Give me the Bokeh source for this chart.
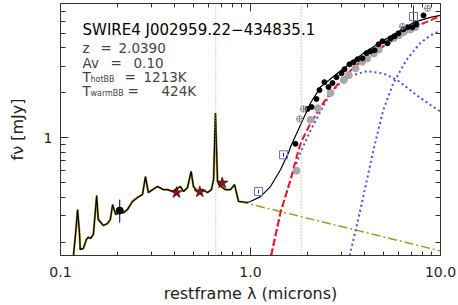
from bokeh.plotting import figure
from bokeh.models import LogAxis, FixedTicker, PrintfTickFormatter, Label, Span
from bokeh.embed import file_html
from bokeh.resources import INLINE

# ---------------- data ----------------
# total model (black solid), restframe wavelength [micron] and flux [mJy]
total_lam = [0.117, 0.120, 0.123, 0.126, 0.127, 0.132, 0.137, 0.140, 0.144, 0.149,
             0.155, 0.158, 0.168, 0.177, 0.183, 0.188, 0.195, 0.205, 0.215, 0.225,
             0.239, 0.254, 0.270, 0.280, 0.290, 0.305, 0.324, 0.348, 0.366, 0.389,
             0.428, 0.444, 0.466, 0.487, 0.501, 0.526, 0.559, 0.594, 0.623, 0.639,
             0.654, 0.670, 0.681, 0.739, 0.785, 0.824, 0.865, 0.964, 1.0,
             1.129, 1.274, 1.438, 1.585, 1.625, 1.833, 2.07, 2.335, 2.87, 3.36,
             3.93, 4.83, 5.94, 7.21, 8.85, 10.0]
total_f = [0.163, 0.226, 0.331, 0.226, 0.179, 0.182, 0.209, 0.216, 0.212, 0.226,
           0.411, 0.284, 0.259, 0.267, 0.284, 0.357, 0.307, 0.316, 0.316, 0.331,
           0.375, 0.398, 0.417, 0.550, 0.430, 0.450, 0.472, 0.450, 0.450, 0.437,
           0.472, 0.437, 0.464, 0.596, 0.472, 0.437, 0.450, 0.430, 0.450, 0.525,
           1.468, 0.525, 0.486, 0.450, 0.450, 0.486, 0.375, 0.369, 0.375,
           0.404, 0.472, 0.612, 0.794, 0.871, 1.221, 1.711, 2.188, 2.712, 3.162,
           3.687, 4.365, 5.09, 5.93, 6.41, 6.61]
n_spec = 48  # number of points belonging to the stellar template (olive underlay)

# power-law / stellar extension (olive dash-dot)
pl_lam = [0.875, 10.0]
pl_f = [0.375, 0.175]

# sum of black bodies (red dashed)
bbsum_lam = [1.285, 1.438, 1.625, 1.79, 1.87, 2.07, 2.335, 2.63, 3.07, 3.6, 4.4, 5.4, 6.6, 8.1, 10.0]
bbsum_f = [0.163, 0.316, 0.525, 0.832, 0.97, 1.25, 1.61, 1.995, 2.51, 3.07, 3.69, 4.37, 5.09, 5.84, 6.55]

# hot black body (blue dotted)
hot_lam = [1.285, 1.438, 1.625, 1.833, 2.07, 2.3, 2.49, 2.87, 3.36, 4.1, 5.0, 5.94, 7.5, 8.85, 10.0]
hot_f = [0.163, 0.316, 0.525, 0.80, 1.12, 1.45, 1.75, 2.25, 2.6, 2.8, 2.7, 2.43, 1.93, 1.66, 1.5]

# warm black body (blue dotted)
warm_lam = [3.33, 3.79, 4.44, 5.0, 5.65, 6.6, 7.8, 8.85, 10.0]
warm_f = [0.163, 0.331, 0.832, 1.54, 2.33, 3.31, 4.30, 4.86, 5.2]

# IRS spectrum points (black dots)
irs_lam = [1.725, 1.995, 2.094, 2.225, 2.307, 2.449, 2.574, 2.70, 2.836, 3.013,
           3.126, 3.319, 3.485, 3.656, 3.883, 4.08, 4.28, 4.50, 4.72, 4.95,
           5.26, 5.46, 5.73, 6.01, 6.38, 6.70, 7.12, 7.48, 8.14]
irs_f = [0.912, 1.56, 1.61, 1.82, 2.09, 2.36, 2.19, 2.33, 2.55, 2.71,
         2.88, 3.11, 3.21, 3.36, 3.41, 3.69, 3.80, 3.86, 4.23, 4.43,
         4.30, 4.64, 4.79, 5.01, 5.33, 5.50, 5.50, 5.75, 6.61]

# model photometry (grey dots)
mod_lam = [1.746, 2.07, 2.26, 2.64, 3.10, 3.29, 3.57, 3.87, 4.11, 4.46, 4.73, 5.24, 5.68, 6.04, 6.41, 6.95, 7.38]
mod_f = [0.603, 1.32, 1.58, 2.0, 2.44, 2.63, 2.92, 3.23, 3.40, 3.67, 3.90, 4.39, 4.66, 4.86, 5.11, 5.31, 5.52]

# grey open circles with cross
oc_lam = [1.811, 1.901, 6.31, 8.55]
oc_f = [1.34, 1.56, 5.58, 7.36]

# optical photometry (red stars)
star_lam = [0.408, 0.541, 0.710]
star_f = [0.430, 0.435, 0.499]

# UV point with error bar (black filled circle)
uv_lam = [0.205]
uv_f = [0.326]
uv_lo = [0.271]
uv_hi = [0.386]

# IRAC / MIPS photometry (blue open squares) with error bars
sq_lam = [1.102, 1.492, 7.21]
sq_f = [0.437, 0.770, 6.50]
sq_lo = [0.424, 0.748, 5.67]
sq_hi = [0.450, 0.792, 7.70]

# dotted vertical markers
cut_lam = [0.656, 1.85]

x_major = [0.1, 1.0, 10.0]
x_minor = [0.2, 0.3, 0.4, 0.5, 0.6, 0.7, 0.8, 0.9, 2, 3, 4, 5, 6, 7, 8, 9]
y_major = [1.0]
y_minor = [0.2, 0.3, 0.4, 0.5, 0.6, 0.7, 0.8, 0.9, 2, 3, 4, 5, 6, 7]

FONT = "DejaVu Sans"
AX = "#333333"

p = figure(width=458, height=305, x_axis_type="log", y_axis_type="log",
           x_range=(0.1, 10.0), y_range=(0.163, 7.94),
           output_backend="svg", toolbar_location=None,
           min_border_left=60, min_border_right=18, min_border_top=3, min_border_bottom=49)
p.grid.visible = False
p.outline_line_color = None
p.background_fill_color = "white"
p.border_fill_color = "white"


def style_axis(ax, major_len, minor_len):
    ax.axis_line_color = AX
    ax.axis_line_width = 1
    ax.major_tick_line_color = AX
    ax.minor_tick_line_color = AX
    ax.major_tick_in = major_len
    ax.major_tick_out = 0
    ax.minor_tick_in = minor_len
    ax.minor_tick_out = 0
    ax.major_label_text_font = FONT
    ax.major_label_text_color = "#222222"
    ax.axis_label_text_font = FONT
    ax.axis_label_text_font_style = "normal"
    ax.axis_label_text_color = "#222222"


xb = p.xaxis[0]
xb.ticker = FixedTicker(ticks=x_major, minor_ticks=x_minor)
xb.formatter = PrintfTickFormatter(format="%.1f")
style_axis(xb, 8, 4)
xb.major_label_text_font_size = "14px"
xb.major_label_standoff = 11
xb.axis_label = "restframe λ (microns)"
xb.axis_label_text_font_size = "16px"
xb.axis_label_standoff = 4

yl = p.yaxis[0]
yl.ticker = FixedTicker(ticks=y_major, minor_ticks=y_minor)
yl.formatter = PrintfTickFormatter(format="%d")
style_axis(yl, 8, 5)
yl.major_label_text_font_size = "14px"
yl.major_label_standoff = 8
yl.axis_label = "fν [mJy]"
yl.axis_label_text_font_size = "16px"
yl.axis_label_standoff = 14

top = LogAxis(ticker=FixedTicker(ticks=x_major, minor_ticks=x_minor))
style_axis(top, 8, 4)
top.major_label_text_font_size = "1px"
top.major_label_text_alpha = 0
top.major_label_standoff = 0
p.add_layout(top, "above")

right = LogAxis(ticker=FixedTicker(ticks=y_major, minor_ticks=y_minor))
style_axis(right, 8, 5)
right.major_label_text_font_size = "1px"
right.major_label_text_alpha = 0
right.major_label_standoff = 0
p.add_layout(right, "right")

# vertical dotted markers
for lam in cut_lam:
    p.add_layout(Span(location=lam, dimension="height", line_color="#AAAAAA",
                      line_dash="1 2", line_width=1))

# stellar template underlay and power-law extension
p.line(total_lam[:n_spec], total_f[:n_spec], line_color="#A8962A", line_width=2.2)
p.line(pl_lam, pl_f, line_color="#A8961E", line_width=1.5, line_dash="9 3 2 3")

# black bodies
p.line(hot_lam, hot_f, line_color="#4A4AF0", line_width=2, line_dash="2 3")
p.line(warm_lam, warm_f, line_color="#4A4AF0", line_width=2, line_dash="2 3")
p.line(bbsum_lam, bbsum_f, line_color="#FF1010", line_width=2, line_dash="7 3")

# model photometry
p.scatter(mod_lam, mod_f, marker="circle", size=7, fill_color="#A8A8A8", line_color="#A8A8A8")

# total model
p.line(total_lam, total_f, line_color="black", line_width=1.2)

# data
p.scatter(irs_lam, irs_f, marker="circle", size=5, fill_color="black", line_color="black")
p.scatter(oc_lam, oc_f, marker="circle_cross", size=6, fill_color=None, line_color="#888888", line_width=1)
p.segment(uv_lam, uv_lo, uv_lam, uv_hi, line_color="black", line_width=1)
p.scatter(uv_lam, uv_f, marker="circle", size=7, fill_color="black", line_color="black")
p.segment(sq_lam, sq_lo, sq_lam, sq_hi, line_color="#333333", line_width=1)
p.scatter(sq_lam, sq_f, marker="square", size=8, fill_color=None, line_color="#6E6ED0", line_width=1)
p.scatter(star_lam, star_f, marker="star", size=12, fill_color="#8B1414", line_color="#2A0000", line_width=0.6)

# annotation text
GRAY = "#444444"


def lab(x, y, t, size="13.5px", color=GRAY):
    p.add_layout(Label(x=x, y=y, text=t, text_font=FONT, text_font_size=size,
                       text_color=color, text_baseline="alphabetic", text_align="left"))


lab(0.1306, 5.25, "SWIRE4 J002959.22−434835.1", size="15px", color="black")
lab(0.1306, 4.01, "z")
lab(0.1624, 4.01, "=")
lab(0.2021, 4.01, "2.0390")
lab(0.1306, 3.16, "Av")
lab(0.1833, 3.16, "=")
lab(0.2423, 3.16, "0.10")
lab(0.1306, 2.57, "T")
lab(0.1438, 2.47, "hotBB", size="8px")
lab(0.2172, 2.57, "=")
lab(0.2734, 2.57, "1213K")
lab(0.1306, 2.06, "T")
lab(0.1438, 1.98, "warmBB", size="8px")
lab(0.2253, 2.06, "=")
lab(0.3401, 2.06, "424K")

open("out.html", "w").write(file_html(p, INLINE))
